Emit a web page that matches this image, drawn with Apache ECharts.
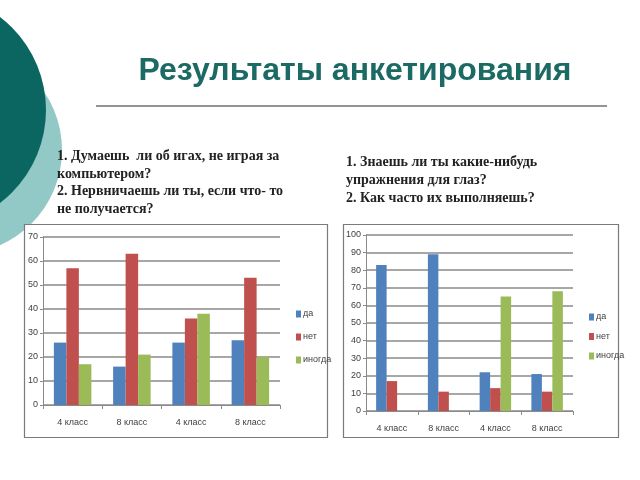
<!DOCTYPE html>
<html><head><meta charset="utf-8">
<script src="https://cdn.jsdelivr.net/npm/echarts@6/dist/echarts.min.js"></script>
<style>html,body{margin:0;padding:0;background:#fff}#c{width:640px;height:480px}</style>
</head><body><div id="c"></div>
<script>
const categories = ['4 класс', '8 класс', '4 класс', '8 класс'];
const seriesNames = ['да', 'нет', 'иногда'];
// Chart 1: games / nervous
const left_da = [26, 16, 26, 27];
const left_net = [57, 63, 36, 53];
const left_inogda = [17, 21, 38, 20];
// Chart 2: eye exercises
const right_da = [83, 89, 22, 21];
const right_net = [17, 11, 13, 11];
const right_inogda = [0, 0, 65, 68];
const leftTicks = {min: 0, max: 70, interval: 10};
const rightTicks = {min: 0, max: 100, interval: 10};

const colors = ['#4f81bd', '#c0504d', '#9bbb59'];
const axisFont = 'Liberation Sans Narrow, Liberation Sans, sans-serif';

const chart = echarts.init(document.getElementById('c'), null, {renderer: 'canvas'});

function yAx(idx, t) {
  return {
    type: 'value', gridIndex: idx, min: t.min, max: t.max, interval: t.interval,
    axisLine: {show: true, lineStyle: {color: '#8a8a8a', width: 1}},
    axisTick: {show: true, length: 3, lineStyle: {color: '#8a8a8a'}},
    axisLabel: {fontSize: 9, color: '#404040', fontFamily: axisFont, margin: 5},
    splitLine: {show: true, lineStyle: {color: '#8a8a8a', width: 1.5}}
  };
}
function xAx(idx) {
  return {
    type: 'category', gridIndex: idx, data: categories,
    axisLine: {show: true, lineStyle: {color: '#8a8a8a', width: 1}},
    axisTick: {show: true, length: 4, alignWithLabel: false, lineStyle: {color: '#8a8a8a'}},
    axisLabel: {fontSize: 9, color: '#404040', fontFamily: axisFont, margin: 13}
  };
}
function bars(idx, arrs, w) {
  return arrs.map((d, i) => ({
    type: 'bar', name: seriesNames[i], xAxisIndex: idx, yAxisIndex: idx,
    data: d, barWidth: w, barGap: '0%', itemStyle: {color: colors[i]},
    emphasis: {disabled: true}
  }));
}

const option = {
  animation: false,
  color: colors,
  title: [
    {text: 'Результаты анкетирования', left: 350, top: 50, textAlign: 'center',
     textStyle: {fontFamily: 'Liberation Sans, Arial, sans-serif', fontSize: 32, fontWeight: 'bold', color: '#1b6a63'}},
    {text: '1. Думаешь  ли об игах, не играя за\nкомпьютером?\n2. Нервничаешь ли ты, если что- то\nне получается?',
     left: 52, top: 143,
     textStyle: {fontFamily: 'Liberation Serif, serif', fontSize: 14, fontWeight: 'bold', color: '#222', lineHeight: 17.5}},
    {text: '1. Знаешь ли ты какие-нибудь\nупражнения для глаз?\n2. Как часто их выполняешь?',
     left: 341, top: 148,
     textStyle: {fontFamily: 'Liberation Serif, serif', fontSize: 14, fontWeight: 'bold', color: '#222', lineHeight: 18}}
  ],
  graphic: [
    {type: 'circle', z: -10, shape: {cx: -42, cy: 150, r: 104}, style: {fill: '#92c8c5'}},
    {type: 'circle', z: -9, shape: {cx: -71, cy: 110, r: 117}, style: {fill: '#0b6560'}},
    {type: 'line', z: -9, shape: {x1: 96, y1: 106, x2: 607, y2: 106}, style: {stroke: '#707070', lineWidth: 1.5}},
    {type: 'rect', z: -8, shape: {x: 24.5, y: 224.5, width: 303, height: 213}, style: {fill: '#fff', stroke: '#7a7a7a', lineWidth: 1.2}},
    {type: 'rect', z: -8, shape: {x: 343.5, y: 224.5, width: 275, height: 213}, style: {fill: '#fff', stroke: '#7a7a7a', lineWidth: 1.2}}
  ],
  legend: [
    {data: seriesNames, orient: 'vertical', left: 291, top: 304, itemWidth: 5, itemHeight: 7, itemGap: 13, icon: 'rect',
     textStyle: {fontSize: 9, color: '#404040', fontFamily: axisFont, lineHeight: 10, padding: [0, 0, 0, -3]}, selectedMode: false},
    {data: seriesNames, orient: 'vertical', left: 584, top: 307, itemWidth: 5, itemHeight: 7, itemGap: 9.5, icon: 'rect',
     textStyle: {fontSize: 9, color: '#404040', fontFamily: axisFont, lineHeight: 10, padding: [0, 0, 0, -3]}, selectedMode: false}
  ],
  grid: [
    {left: 43, right: 360, top: 237, bottom: 75, containLabel: false},
    {left: 366, right: 67, top: 235, bottom: 69, containLabel: false}
  ],
  xAxis: [xAx(0), xAx(1)],
  yAxis: [yAx(0, leftTicks), yAx(1, rightTicks)],
  series: [].concat(
    bars(0, [left_da, left_net, left_inogda], 12.5),
    bars(1, [right_da, right_net, right_inogda], 10.5)
  )
};
chart.setOption(option);
</script>
</body></html>
